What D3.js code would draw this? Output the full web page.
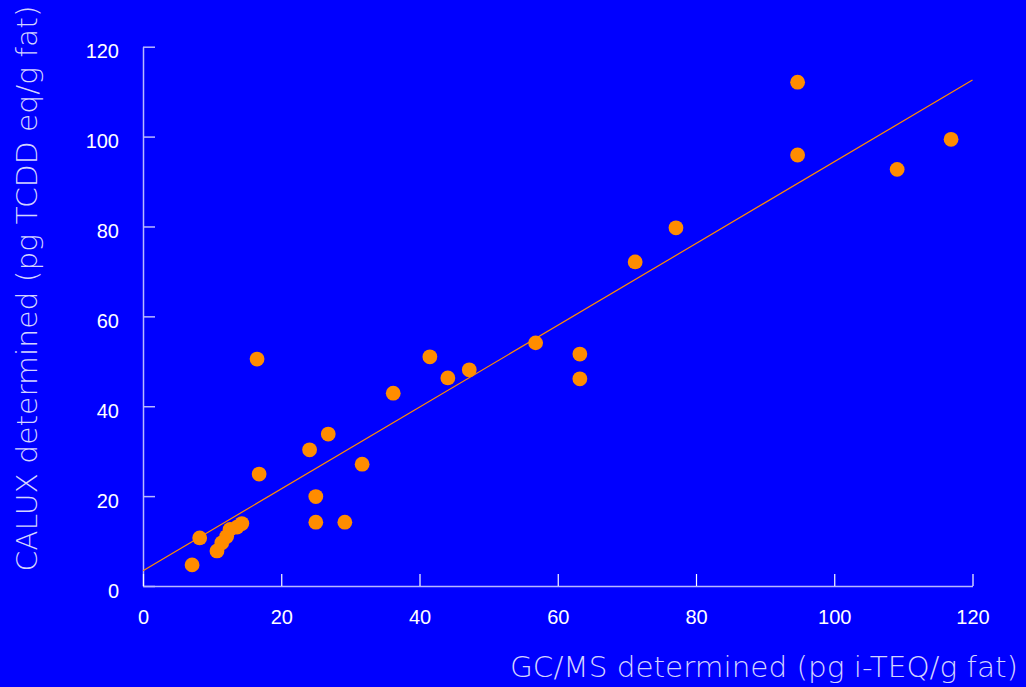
<!DOCTYPE html>
<html>
<head>
<meta charset="utf-8">
<script src="https://cdn.jsdelivr.net/npm/d3@7"></script>
<style>
  html, body { margin: 0; padding: 0; background: #0000ff; }
  svg { display: block; }
</style>
</head>
<body>
<svg id="chart" width="1026" height="687"></svg>
<script>
// GC/MS vs CALUX measurements (pg/g fat)
const gcms  = [7.1, 8.2, 10.7, 11.4, 12.1, 12.6, 13.6, 14.3, 16.5, 16.8, 24.1, 25.0, 25.0, 26.8, 29.2, 31.7, 36.2, 41.5, 44.1, 47.2, 56.8, 63.2, 63.2, 71.2, 77.1, 94.7, 94.7, 109.1, 116.9];
const calux = [4.7, 10.7, 7.8, 9.6, 11.0, 12.6, 13.1, 13.9, 50.5, 24.9, 30.3, 19.9, 14.2, 33.8, 14.2, 27.1, 42.9, 51.0, 46.3, 48.1, 54.1, 51.6, 46.1, 72.1, 79.7, 112.1, 95.9, 92.7, 99.4];

// Fitted regression line: CALUX = intercept + slope * GCMS
const fitIntercept = 3.4;
const fitSlope = 0.91;
const fitRange = [0, 120];

const xTicks = [0, 20, 40, 60, 80, 100, 120];
const yTicks = [0, 20, 40, 60, 80, 100, 120];

const xTitle = "GC/MS determined (pg i-TEQ/g fat)";
const yTitle = "CALUX determined (pg TCDD eq/g fat)";

const svg = d3.select("#chart");

const x = d3.scaleLinear().domain([0, 120]).range([143, 972.5]);
const y = d3.scaleLinear().domain([0, 120]).range([586, 46.7]);

const axisColor = "#b8b8ff";
const labelFont = "'Liberation Sans', Arial, sans-serif";

// y axis
const gy = svg.append("g")
  .attr("transform", `translate(${x(0)},0)`)
  .call(d3.axisLeft(y).tickValues(yTicks).tickSize(-12).tickSizeOuter(0).tickPadding(24));
gy.select(".domain").attr("stroke", axisColor).attr("stroke-width", 1.5);
gy.selectAll(".tick line").attr("stroke", axisColor).attr("stroke-width", 1.5);
gy.selectAll(".tick text")
  .attr("fill", "#ffffff")
  .attr("font-family", labelFont)
  .attr("font-size", 20)
  .attr("dy", "0.55em");

// x axis
const gx = svg.append("g")
  .attr("transform", `translate(0,${y(0)})`)
  .call(d3.axisBottom(x).tickValues(xTicks).tickSize(-12).tickSizeOuter(0).tickPadding(24));
gx.select(".domain").attr("stroke", axisColor).attr("stroke-width", 1.5);
gx.selectAll(".tick line").attr("stroke", "#ffffff").attr("stroke-width", 1.2);
gx.selectAll(".tick text")
  .attr("fill", "#ffffff")
  .attr("font-family", labelFont)
  .attr("font-size", 20)
  .attr("dy", "0.71em");

// regression line
const line = d3.line()
  .x(d => x(d))
  .y(d => y(fitIntercept + fitSlope * d));
svg.append("path")
  .datum(fitRange)
  .attr("d", line)
  .attr("fill", "none")
  .attr("stroke", "#ff8c00")
  .attr("stroke-width", 1.2);

// data points
svg.append("g")
  .selectAll("circle")
  .data(gcms.map((g, i) => ({ g, c: calux[i] })))
  .join("circle")
  .attr("cx", d => x(d.g))
  .attr("cy", d => y(d.c))
  .attr("r", 7.4)
  .attr("fill", "#ff8c00");

// axis titles
const titleFont = "'DejaVu Sans', sans-serif";
svg.append("text")
  .attr("x", 764)
  .attr("y", 677)
  .attr("text-anchor", "middle")
  .attr("font-family", titleFont)
  .attr("font-weight", 200)
  .attr("font-size", 29)
  .attr("fill", "#d4d4ff")
  .attr("textLength", 508)
  .attr("lengthAdjust", "spacingAndGlyphs")
  .text(xTitle);

svg.append("text")
  .attr("transform", "translate(37,288.5) rotate(-90)")
  .attr("text-anchor", "middle")
  .attr("font-family", titleFont)
  .attr("font-weight", 200)
  .attr("font-size", 29)
  .attr("fill", "#d4d4ff")
  .attr("textLength", 566)
  .attr("lengthAdjust", "spacingAndGlyphs")
  .text(yTitle);
</script>
</body>
</html>
